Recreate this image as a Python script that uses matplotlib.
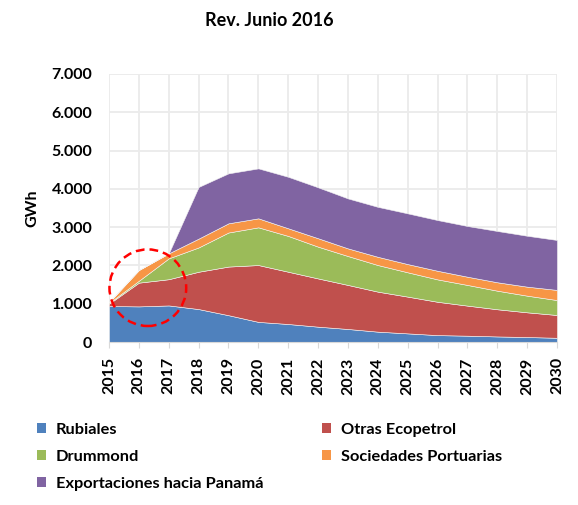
import numpy as np
import matplotlib
matplotlib.use("Agg")
import matplotlib.pyplot as plt
from matplotlib.patches import Ellipse, Patch
from matplotlib.ticker import FuncFormatter

plt.rcParams['font.family'] = ['Lato', 'DejaVu Sans']

# Data (GWh)
years = list(range(2015, 2031))
rubiales = [940, 930, 955, 860, 700, 525, 470, 400, 340, 270, 225, 180, 165, 145, 130, 110]
otras_ecopetrol = [60, 620, 685, 975, 1270, 1485, 1365, 1260, 1150, 1045, 960, 870, 785, 710, 645, 595]
drummond = [20, 50, 545, 635, 890, 985, 935, 830, 755, 695, 635, 585, 540, 485, 435, 390]
sociedades = [20, 280, 130, 230, 240, 235, 200, 220, 200, 215, 215, 225, 215, 220, 235, 265]
panama = [0, 0, 0, 1350, 1305, 1305, 1345, 1330, 1305, 1305, 1325, 1325, 1325, 1340, 1330, 1305]

labels = ['Rubiales', 'Otras Ecopetrol', 'Drummond', 'Sociedades Portuarias',
          'Exportaciones hacia Panamá']
colors = ['#4F81BD', '#C0504D', '#9BBB59', '#F79646', '#8064A2']

fig = plt.figure(figsize=(5.78, 5.05), dpi=100)
ax = fig.add_axes([109 / 578, 163 / 505, 448 / 578, 268 / 505])

ax.stackplot(years, rubiales, otras_ecopetrol, drummond, sociedades, panama,
             colors=colors, edgecolor='#f4f4f4', linewidth=0.4, zorder=2)

ax.set_xlim(2015, 2030)
ax.set_ylim(0, 7000)
ax.set_xticks(years)
ax.set_yticks(range(0, 7001, 1000))
ax.yaxis.set_major_formatter(FuncFormatter(lambda v, p: f"{int(v):,}".replace(',', '.')))
ax.grid(True, color='#ebebeb', linewidth=1.3, zorder=0)
ax.set_axisbelow(True)
for s in ['top', 'right', 'left']:
    ax.spines[s].set_visible(False)
ax.spines['bottom'].set_color('#d9d9d9')
ax.tick_params(axis='y', length=0, pad=12, labelsize=11.5)
ax.tick_params(axis='x', length=4, color='#d9d9d9', pad=7, labelsize=11.5,
               labelrotation=90)
for lab in ax.get_xticklabels() + ax.get_yticklabels():
    lab.set_fontweight('bold')

fig.text(32 / 578, 1 - 208 / 505, 'GWh', rotation=90, ha='center', va='center',
         fontsize=11.5, fontweight='bold')
fig.text(269 / 578, 1 - 20 / 505, 'Rev. Junio 2016', ha='center', va='center',
         fontsize=13, fontweight='bold')

# red dashed highlight circle
ax.add_patch(Ellipse((2016.3, 1418), width=2.57, height=2000, fill=False,
                     edgecolor='#ff0000', linewidth=1.8, linestyle=(0, (3.5, 2)),
                     zorder=5, clip_on=False))

handles = [Patch(facecolor=c) for c in colors]
leg_kw = dict(frameon=False, handlelength=0.55, handleheight=0.55, handletextpad=0.6,
              labelspacing=0.8, prop={'size': 11.8, 'weight': 'bold'}, loc='upper left')
fig.legend([handles[0], handles[2], handles[4]], [labels[0], labels[2], labels[4]],
           bbox_to_anchor=(22 / 578, 1 - 408 / 505), **leg_kw)
fig.legend([handles[1], handles[3]], [labels[1], labels[3]],
           bbox_to_anchor=(307 / 578, 1 - 408 / 505), **leg_kw)

fig.savefig('out.png', dpi=100)
